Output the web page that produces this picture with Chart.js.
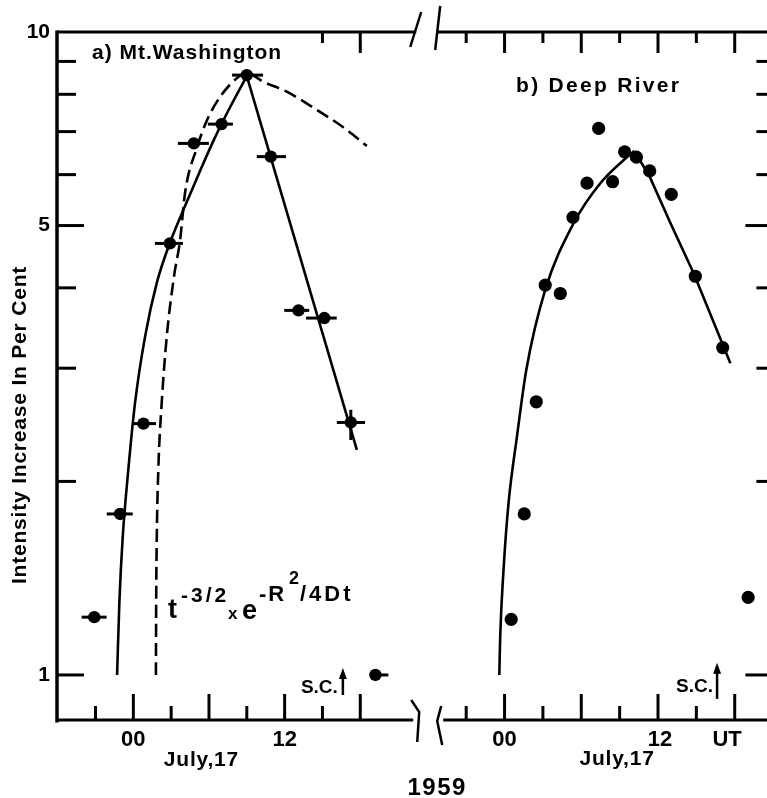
<!DOCTYPE html>
<html><head><meta charset="utf-8">
<script src="https://cdn.jsdelivr.net/npm/chart.js@4.4.1/dist/chart.umd.min.js"></script>
<style>
html,body{margin:0;padding:0;background:#fff;overflow:hidden;}
#wrap{width:767px;height:798px;position:relative;background:#fff;overflow:hidden;}
</style></head><body>
<div id="wrap"><canvas id="c" width="774" height="798"></canvas></div>
<script>
// ---------- data (hours UT, July 17 1959; intensity increase in per cent) ----------
// a) Mt. Washington observations with horizontal error bars (hours)
const mwHours    = [-3.1, -1.05, 0.8, 2.9, 4.8, 7.0, 9.0, 10.9, 13.1, 15.15, 17.25, 19.2];
const mwValues   = [1.23, 1.78, 2.46, 4.69, 6.71, 7.19, 8.57, 6.40, 3.69, 3.59, 2.47, 1.0];
const mwErrLeft  = [1.0, 1.06, 0.82, 1.19, 1.27, 1.09, 1.17, 1.11, 1.13, 1.45, 1.11, 0];
const mwErrRight = [0.98, 1.0, 1.0, 1.03, 1.19, 0.9, 1.29, 1.21, 0.85, 0.98, 1.13, 1.03];
const mwVertErrIndex = 10, mwVertErrLow = 2.32, mwVertErrHigh = 2.585;
// a) fitted solid curve (rise) and straight decline
const mwFitHours   = [-1.29, -1.11, -0.84, -0.40, 0.135, 0.93, 1.88, 2.91, 4.10, 5.29, 6.48, 7.68, 9.0];
const mwFitValues  = [1.0, 1.294, 1.641, 2.084, 2.649, 3.359, 4.086, 4.706, 5.362, 6.079, 6.856, 7.645, 8.54];
const mwFallHours  = [9.0, 17.73];
const mwFallValues = [8.54, 2.24];
// a) diffusion curve t^-3/2 x e^-R^2/4Dt (dashed)
const diffHours  = [1.79, 1.81, 1.86, 1.98, 2.25, 2.65, 3.23, 3.71, 4.10, 5.06, 5.85, 6.88, 8.23, 9.02, 10.29, 12.17, 14.56, 16.40, 18.52];
const diffValues = [1.0, 1.294, 1.641, 2.084, 2.649, 3.359, 4.173, 4.749, 5.619, 6.624, 7.297, 7.926, 8.48, 8.636, 8.37, 8.075, 7.562, 7.168, 6.649];
// b) Deep River observations
const drHours  = [0.52, 1.54, 2.48, 3.18, 4.36, 5.35, 6.45, 7.36, 8.45, 9.39, 10.31, 11.35, 13.04, 14.92, 17.06, 19.05];
const drValues = [1.22, 1.78, 2.66, 4.04, 3.92, 5.15, 5.82, 7.08, 5.85, 6.51, 6.39, 6.08, 5.59, 4.17, 3.23, 1.32];
// b) fitted curve
const drFitHours   = [-0.41, -0.34, -0.08, 0.31, 0.97, 1.70, 3.18, 5.40, 7.49, 9.58, 10.15];
const drFitValues  = [1.0, 1.147, 1.457, 1.849, 2.348, 2.981, 3.970, 5.041, 5.818, 6.391, 6.531];
const drFallHours  = [10.15, 11.35, 12.97, 14.79, 17.66];
const drFallValues = [6.531, 5.956, 5.046, 4.214, 3.053];
// axes
const yTickValues = [1, 2, 3, 4, 5, 6, 7, 8, 9, 10];
const yTickLabels = {1: '1', 5: '5', 10: '10'};
const yMajor = [1, 5];
const hourTicks = [-3, 0, 3, 6, 9, 12, 15, 18];
const leftTopHourTicks = [15, 18];
const leftLabelHours = [0, 12];
const leftLabelTexts = ['00', '12'];
const rightLabelHours = [0, 12.15, 17.4];
const rightLabelTexts = ['00', '12', 'UT'];
const scHour = 16.62;

const FONT = "'Liberation Sans', Arial, sans-serif";
const pts = (xs, ys) => xs.map((x, i) => ({x: x, y: ys[i]}));

function seg(ctx, x1, y1, x2, y2) { ctx.beginPath(); ctx.moveTo(x1, y1); ctx.lineTo(x2, y2); ctx.stroke(); }
function txt(ctx, s, x, y, size, align, ls) {
  ctx.font = 'bold ' + size + 'px ' + FONT;
  ctx.textAlign = align || 'left';
  ctx.textBaseline = 'alphabetic';
  ctx.letterSpacing = (ls || 0) + 'px';
  ctx.fillText(s, x, y);
  ctx.letterSpacing = '0px';
}
function arrow(ctx, x, yTop, yBot) {
  ctx.lineWidth = 2.5;
  seg(ctx, x, yBot, x, yTop + 6);
  ctx.beginPath(); ctx.moveTo(x, yTop); ctx.lineTo(x - 4, yTop + 11); ctx.lineTo(x + 4, yTop + 11); ctx.closePath(); ctx.fill();
}

const decor = {
  id: 'decor',
  afterDatasetsDraw(chart) {
    const {ctx, scales: {y, xL}} = chart;
    ctx.save();
    ctx.strokeStyle = '#000'; ctx.lineWidth = 3; ctx.lineCap = 'butt';
    mwHours.forEach((h, i) => {
      const py = y.getPixelForValue(mwValues[i]);
      seg(ctx, xL.getPixelForValue(h - mwErrLeft[i]), py, xL.getPixelForValue(h + mwErrRight[i]), py);
    });
    const vx = xL.getPixelForValue(mwHours[mwVertErrIndex]);
    seg(ctx, vx, y.getPixelForValue(mwVertErrLow), vx, y.getPixelForValue(mwVertErrHigh));
    ctx.restore();
  },
  afterDraw(chart) {
    const {ctx, chartArea: ca, scales: {y, xL, xR}} = chart;
    ctx.save();
    ctx.strokeStyle = '#000'; ctx.fillStyle = '#000'; ctx.lineCap = 'butt';
    const bx = xL.right;             // break between panels
    // frame
    ctx.lineWidth = 3.5;
    seg(ctx, ca.left, ca.top - 1.5, ca.left, ca.bottom + 1.5);
    ctx.lineWidth = 3;
    seg(ctx, ca.left, ca.top, bx - 11, ca.top);
    seg(ctx, bx + 10, ca.top, ca.right + 8, ca.top);
    seg(ctx, ca.left, ca.bottom - 1, bx - 14, ca.bottom - 1);
    seg(ctx, bx + 16, ca.bottom - 1, ca.right + 8, ca.bottom - 1);
    // break marks
    ctx.lineWidth = 2.5;
    seg(ctx, bx - 17, ca.top + 15, bx - 6, ca.top - 20);
    ctx.beginPath(); ctx.moveTo(bx + 8, ca.top + 18); ctx.lineTo(bx + 10, ca.top); ctx.lineTo(bx + 13, ca.top - 26); ctx.stroke();
    ctx.beginPath(); ctx.moveTo(bx - 16, ca.bottom - 21); ctx.lineTo(bx - 8, ca.bottom - 9); ctx.lineTo(bx - 10, ca.bottom + 21); ctx.stroke();
    ctx.beginPath(); ctx.moveTo(bx + 14, ca.bottom - 15); ctx.lineTo(bx + 10, ca.bottom); ctx.lineTo(bx + 15, ca.bottom + 24); ctx.stroke();
    // y ticks (inward, both sides)
    ctx.lineWidth = 3;
    yTickValues.slice(0, 9).forEach(v => {
      const py = y.getPixelForValue(v);
      const major = yMajor.includes(v);
      seg(ctx, ca.left, py, ca.left + (major ? 27 : 19), py);
      seg(ctx, ca.right + 8, py, ca.right - (major ? 22 : 11), py);
    });
    // x ticks
    hourTicks.forEach(h => {
      const major = h % 6 === 0;
      const pl = xL.getPixelForValue(h), pr = xR.getPixelForValue(h);
      seg(ctx, pl, ca.bottom, pl, ca.bottom - (major ? 27 : 15));
      seg(ctx, pr, ca.bottom, pr, ca.bottom - (major ? 27 : 15));
      seg(ctx, pr, ca.top, pr, ca.top + (major ? 21 : 11));
    });
    leftTopHourTicks.forEach(h => {
      const pl = xL.getPixelForValue(h);
      seg(ctx, pl, ca.top, pl, ca.top + (h % 6 === 0 ? 21 : 11));
    });
    // panel titles
    txt(ctx, 'a) Mt.Washington', 92, 59, 21, 'left', 1);
    txt(ctx, 'b) Deep River', 516, 92, 21, 'left', 2.3);
    // y axis title
    ctx.save();
    ctx.translate(26, 425);
    ctx.rotate(-Math.PI / 2);
    txt(ctx, 'Intensity Increase In Per Cent', 0, 0, 21, 'center', 0.8);
    ctx.restore();
    // date labels
    txt(ctx, 'July,17', xL.getPixelForValue(5.4), 766, 21, 'center', 0.8);
    txt(ctx, 'July,17', xR.getPixelForValue(8.8), 765, 21, 'center', 0.8);
    txt(ctx, '1959', bx + 10, 795, 24, 'center', 1.5);
    // S.C. markers
    const sl = xL.getPixelForValue(scHour), sr = xR.getPixelForValue(scHour);
    arrow(ctx, sl, y.getPixelForValue(1.025), y.getPixelForValue(0.931));
    arrow(ctx, sr, y.getPixelForValue(1.045), y.getPixelForValue(0.918));
    txt(ctx, 'S.C.', sl - 5, 693, 19, 'right', 0);
    txt(ctx, 'S.C.', sr - 4, 692, 19, 'right', 0);
    // formula
    txt(ctx, 't', 168, 618, 27, 'left', 0);
    txt(ctx, '-3/2', 181, 602, 21, 'left', 3);
    txt(ctx, 'x', 228, 619, 17, 'left', 0);
    txt(ctx, 'e', 242, 619, 27, 'left', 0);
    txt(ctx, '-R', 259, 601, 22, 'left', 2);
    txt(ctx, '2', 289, 584, 18, 'left', 0);
    txt(ctx, '/4Dt', 300, 601, 22, 'left', 3);
    ctx.restore();
  }
};

Chart.defaults.font.family = FONT;
Chart.defaults.color = '#000';

const lineStyle = {showLine: true, pointRadius: 0, borderColor: '#000', borderWidth: 2.6, fill: false};

new Chart(document.getElementById('c'), {
  type: 'scatter',
  data: {
    datasets: [
      Object.assign({data: pts(mwFitHours, mwFitValues), xAxisID: 'xL', cubicInterpolationMode: 'monotone'}, lineStyle),
      Object.assign({data: pts(mwFallHours, mwFallValues), xAxisID: 'xL', tension: 0}, lineStyle),
      Object.assign({data: pts(diffHours, diffValues), xAxisID: 'xL', cubicInterpolationMode: 'monotone', borderDash: [13, 6]}, lineStyle),
      Object.assign({data: pts(drFitHours, drFitValues), xAxisID: 'xR', cubicInterpolationMode: 'monotone'}, lineStyle),
      Object.assign({data: pts(drFallHours, drFallValues), xAxisID: 'xR', tension: 0}, lineStyle),
      {data: pts(mwHours, mwValues), xAxisID: 'xL', pointRadius: 6.2, pointBackgroundColor: '#000', pointBorderWidth: 0, showLine: false},
      {data: pts(drHours, drValues), xAxisID: 'xR', pointRadius: 6.6, pointBackgroundColor: '#000', pointBorderWidth: 0, showLine: false}
    ]
  },
  options: {
    responsive: false, animation: false, devicePixelRatio: 1,
    layout: {padding: {top: 32, right: 0, bottom: 0, left: 0}},
    plugins: {legend: {display: false}, tooltip: {enabled: false}},
    scales: {
      y: {
        type: 'logarithmic', position: 'left', min: 0.848, max: 10,
        afterBuildTicks: s => { s.ticks = yTickValues.map(v => ({value: v})); },
        afterFit: s => { s.width = 57; },
        ticks: {autoSkip: false, padding: 7, font: {size: 21, weight: 'bold'}, color: '#000',
                callback: v => yTickLabels[v] || ''},
        grid: {display: false, drawTicks: false}, border: {display: false}
      },
      xL: {
        type: 'linear', position: 'bottom', stack: 'x', stackWeight: 370,
        min: (57 - 133.3) / 12.6, max: (427 - 133.3) / 12.6,
        afterBuildTicks: s => { s.ticks = leftLabelHours.map(v => ({value: v})); },
        afterFit: s => { s.height = 77; },
        ticks: {autoSkip: false, maxRotation: 0, padding: 6, font: {size: 22, weight: 'bold'}, color: '#000',
                callback: v => leftLabelTexts[leftLabelHours.indexOf(v)]},
        grid: {display: false, drawTicks: false}, border: {display: false}
      },
      xR: {
        type: 'linear', position: 'bottom', stack: 'x', stackWeight: 340,
        min: (427 - 504.3) / 12.78, max: (767 - 504.3) / 12.78,
        afterBuildTicks: s => { s.ticks = rightLabelHours.map(v => ({value: v})); },
        afterFit: s => { s.height = 77; },
        ticks: {autoSkip: false, maxRotation: 0, padding: 6, font: {size: 22, weight: 'bold'}, color: '#000',
                callback: v => rightLabelTexts[rightLabelHours.indexOf(v)]},
        grid: {display: false, drawTicks: false}, border: {display: false}
      }
    }
  },
  plugins: [decor]
});
</script>
</body></html>
